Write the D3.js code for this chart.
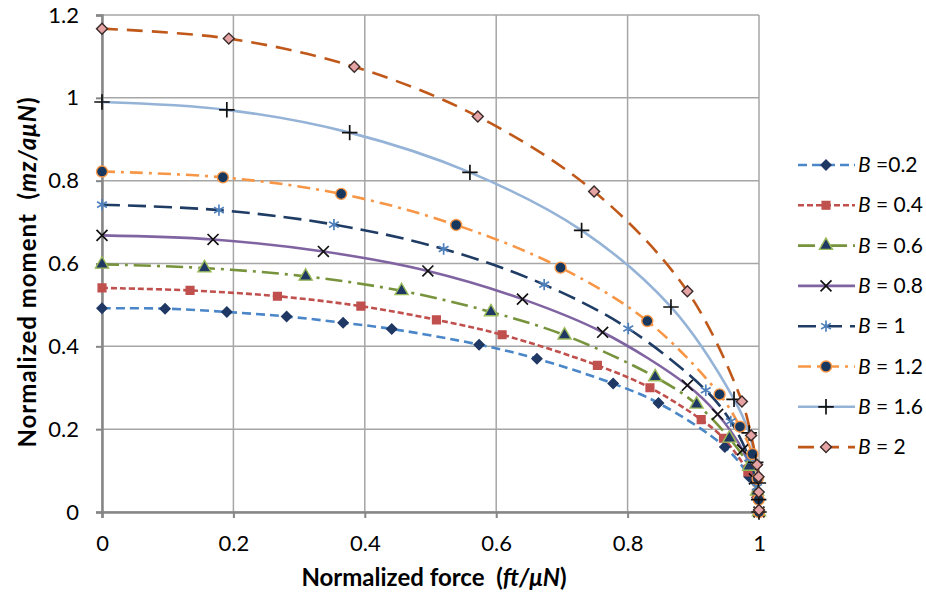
<!DOCTYPE html>
<html>
<head>
<meta charset="utf-8">
<script src="https://cdn.jsdelivr.net/npm/d3@7"></script>
<style>
  body { margin: 0; background: #fff; }
  text { font-family: Lato, 'Open Sans', sans-serif; fill: #000; }
</style>
</head>
<body>
<div id="chart"></div>
<script>
// data: [normalized force, normalized moment]
const b02 = [[0, 0.492], [0.096, 0.491], [0.19, 0.483], [0.281, 0.472], [0.367, 0.457], [0.441, 0.442], [0.574, 0.404], [0.662, 0.37], [0.778, 0.31], [0.847, 0.263], [0.948, 0.157], [0.985, 0.085], [0.997, 0.035], [1, 0]]
const b04 = [[0, 0.541], [0.134, 0.535], [0.267, 0.521], [0.394, 0.497], [0.509, 0.464], [0.609, 0.428], [0.754, 0.354], [0.834, 0.3], [0.912, 0.223], [0.946, 0.178], [0.983, 0.097], [0.996, 0.045], [1, 0]]
const b06 = [[0, 0.598], [0.156, 0.589], [0.31, 0.569], [0.456, 0.534], [0.592, 0.483], [0.704, 0.427], [0.842, 0.326], [0.905, 0.26], [0.955, 0.178], [0.985, 0.11], [0.997, 0.05], [1, 0]]
const b08 = [[0, 0.668], [0.169, 0.658], [0.337, 0.629], [0.496, 0.582], [0.64, 0.514], [0.762, 0.434], [0.891, 0.306], [0.937, 0.236], [0.975, 0.15], [0.993, 0.08], [1, 0]]
const b10 = [[0, 0.742], [0.178, 0.729], [0.353, 0.694], [0.52, 0.635], [0.673, 0.549], [0.801, 0.443], [0.919, 0.294], [0.957, 0.219], [0.985, 0.13], [0.997, 0.06], [1, 0]]
const b12 = [[0, 0.822], [0.184, 0.808], [0.364, 0.768], [0.539, 0.693], [0.698, 0.59], [0.83, 0.461], [0.94, 0.284], [0.971, 0.206], [0.99, 0.14], [0.998, 0.08], [0.9995, 0.03], [1, 0]]
const b16 = [[0, 0.99], [0.19, 0.971], [0.377, 0.916], [0.56, 0.82], [0.73, 0.68], [0.866, 0.495], [0.962, 0.272], [0.985, 0.191], [0.995, 0.12], [0.999, 0.07], [0.9995, 0.03], [1, 0]]
const b20 = [[0, 1.167], [0.193, 1.143], [0.384, 1.075], [0.572, 0.955], [0.749, 0.774], [0.891, 0.533], [0.974, 0.267], [0.988, 0.185], [0.997, 0.114], [0.9993, 0.085], [0.9996, 0.048], [1, 0.005]]

const legendLabels = ['=0.2', '= 0.4', '= 0.6', '= 0.8', '= 1', '= 1.2', '= 1.6', '= 2']
const xTicks = [0, 0.2, 0.4, 0.6, 0.8, 1]
const yTicks = [0, 0.2, 0.4, 0.6, 0.8, 1, 1.2]

const series = [
  { data: b02, color: '#4a86c8', dash: '9,5', marker: 'diamond', fill: '#1f3864', stroke: '#1f3864', size: 50 },
  { data: b04, color: '#c0504d', dash: '6,3', marker: 'square', fill: '#c0504d', stroke: '#c0504d', size: 60 },
  { data: b06, color: '#77933c', dash: '17,6,3,6', marker: 'triangle', fill: '#1f3864', stroke: '#9bbb59', size: 75 },
  { data: b08, color: '#8064a2', dash: null, marker: 'x', fill: 'none', stroke: '#111', size: 80 },
  { data: b10, color: '#1f3c64', dash: '18,8', marker: 'asterisk', fill: 'none', stroke: '#4f81bd', size: 90 },
  { data: b12, color: '#f79646', dash: '13,6,3,6', marker: 'circle', fill: '#17375e', stroke: '#f79646', size: 95 },
  { data: b16, color: '#95b3d7', dash: null, marker: 'plus', fill: 'none', stroke: '#111', size: 80 },
  { data: b20, color: '#c0581a', dash: '16,9', marker: 'diamond', fill: '#e6a3a3', stroke: '#3a2a2a', size: 60 }
]

const margin = { top: 15, left: 102, right: 167, bottom: 80 }
const width = 926 - margin.left - margin.right
const height = 592 - margin.top - margin.bottom

const svg = d3
  .select('#chart')
  .append('svg')
  .attr('width', 926)
  .attr('height', 592)

const g = svg.append('g')
  .attr('transform', 'translate(' + margin.left + ',' + margin.top + ')')

const x = d3.scaleLinear().domain([0, 1]).range([0, width])
const y = d3.scaleLinear().domain([0, 1.2]).range([height, 0])

// grid
g.append('g')
  .selectAll('line')
  .data(xTicks)
  .enter()
  .append('line')
  .attr('x1', d => x(d)).attr('x2', d => x(d))
  .attr('y1', 0).attr('y2', height)
  .attr('stroke', '#a6a6a6')
  .attr('stroke-width', 1.5)

g.append('g')
  .selectAll('line')
  .data(yTicks)
  .enter()
  .append('line')
  .attr('x1', 0).attr('x2', width)
  .attr('y1', d => y(d)).attr('y2', d => y(d))
  .attr('stroke', '#a6a6a6')
  .attr('stroke-width', 1.5)

// axes
const xAxis = g.append('g')
  .attr('transform', 'translate(0,' + height + ')')
  .call(d3.axisBottom(x).tickValues(xTicks).tickSize(6).tickPadding(17).tickFormat(d3.format('')))
const yAxis = g.append('g')
  .call(d3.axisLeft(y).tickValues(yTicks).tickSize(6).tickPadding(17).tickFormat(d3.format('')))

;[xAxis, yAxis].forEach(a => {
  a.select('.domain').attr('stroke', '#868686').attr('stroke-width', 2.5)
  a.selectAll('.tick line').attr('stroke', '#868686').attr('stroke-width', 2)
  a.selectAll('.tick text').style('font-size', '22px').attr('fill', '#000')
})

// lines
const line = d3.line()
  .x(d => x(d[0]))
  .y(d => y(d[1]))
  .curve(d3.curveCatmullRom.alpha(0.5))

const symbols = {
  diamond: d3.symbolSquare,
  square: d3.symbolSquare,
  triangle: d3.symbolTriangle,
  x: d3.symbolX,
  asterisk: d3.symbolAsterisk,
  circle: d3.symbolCircle,
  plus: d3.symbolPlus
}

function drawMarker(sel, s) {
  const open = s.marker === 'x' || s.marker === 'asterisk' || s.marker === 'plus'
  sel.attr('d', d3.symbol().type(symbols[s.marker]).size(s.size))
    .attr('fill', open ? 'none' : s.fill)
    .attr('stroke', s.stroke)
    .attr('stroke-width', open ? 1.7 : 1.4)
}

function place(px, py, s) {
  return 'translate(' + px + ',' + py + ')' + (s.marker === 'diamond' ? ' rotate(45)' : '')
}

series.forEach(s => {
  g.append('path')
    .datum(s.data)
    .attr('d', line)
    .attr('fill', 'none')
    .attr('stroke', s.color)
    .attr('stroke-width', 2.6)
    .attr('stroke-dasharray', s.dash)
})

series.forEach(s => {
  g.append('g')
    .selectAll('path')
    .data(s.data)
    .enter()
    .append('path')
    .attr('transform', d => place(x(d[0]), y(d[1]), s))
    .call(drawMarker, s)
})

// axis titles
const xTitle = svg.append('text')
  .attr('x', 434)
  .attr('y', 586)
  .attr('text-anchor', 'middle')
  .style('font-size', '24px')
  .style('font-weight', 'bold')
xTitle.append('tspan').text('Normalized force \u00a0(')
xTitle.append('tspan').style('font-style', 'italic').text('ft/μN')
xTitle.append('tspan').text(')')

const yTitle = svg.append('text')
  .attr('transform', 'translate(36,272) rotate(-90)')
  .attr('text-anchor', 'middle')
  .style('font-size', '24px')
  .style('font-weight', 'bold')
  .style('letter-spacing', '1px')
yTitle.append('tspan').text('Normalized moment \u00a0(')
yTitle.append('tspan').style('font-style', 'italic').text('mz/aμN')
yTitle.append('tspan').text(')')

// legend
const legend = svg.append('g').attr('transform', 'translate(798,165)')
series.forEach((s, i) => {
  const row = legend.append('g').attr('transform', 'translate(0,' + i * 40.3 + ')')
  row.append('line')
    .attr('x1', 0).attr('x2', 57)
    .attr('stroke', s.color)
    .attr('stroke-width', 2.6)
    .attr('stroke-dasharray', s.dash)
  row.append('path')
    .attr('transform', place(28, 0, s))
    .call(drawMarker, s)
  const t = row.append('text')
    .attr('x', 60)
    .attr('y', 7)
    .style('font-size', '21px')
  t.append('tspan').style('font-style', 'italic').text('B')
  t.append('tspan').text(' ' + legendLabels[i])
})
</script>
</body>
</html>
